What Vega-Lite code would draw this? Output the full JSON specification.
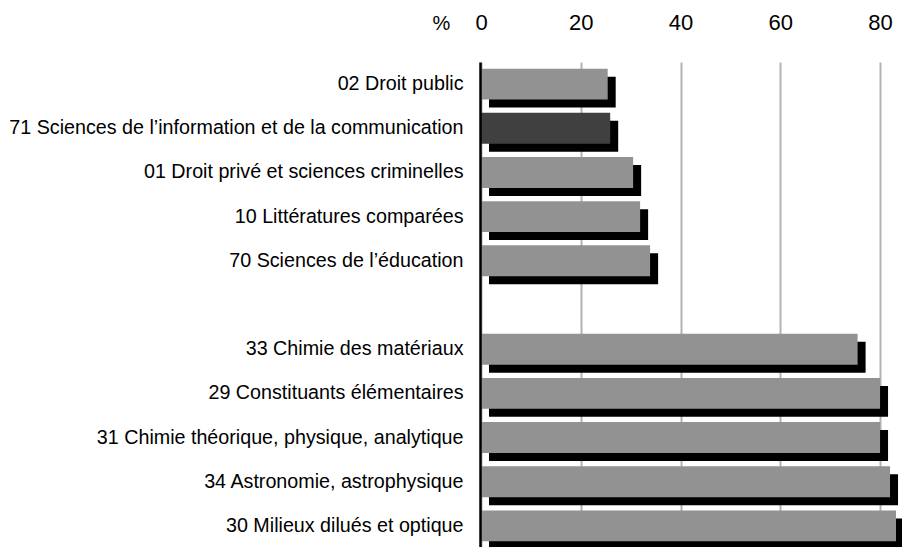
{
  "$schema": "https://vega.github.io/schema/vega-lite/v6.json",
  "autosize": "none",
  "padding": {"left": 481, "top": 62, "right": 0, "bottom": 0},
  "width": 421,
  "height": 486,
  "background": "white",
  "config": {"view": {"stroke": null}, "font": "Liberation Sans"},
  "data": {
    "values": [
      {"discipline": "02 Droit public", "pct": 25.4, "group": "autre"},
      {"discipline": "71 Sciences de l’information et de la communication", "pct": 25.9, "group": "focus"},
      {"discipline": "01 Droit privé et sciences criminelles", "pct": 30.5, "group": "autre"},
      {"discipline": "10 Littératures comparées", "pct": 31.9, "group": "autre"},
      {"discipline": "70 Sciences de l’éducation", "pct": 33.9, "group": "autre"},
      {"discipline": "33 Chimie des matériaux", "pct": 75.5, "group": "autre"},
      {"discipline": "29 Constituants élémentaires", "pct": 80.0, "group": "autre"},
      {"discipline": "31 Chimie théorique, physique, analytique", "pct": 80.0, "group": "autre"},
      {"discipline": "34 Astronomie, astrophysique", "pct": 82.0, "group": "autre"},
      {"discipline": "30 Milieux dilués et optique", "pct": 83.2, "group": "autre"}
    ]
  },
  "encoding": {
    "y": {
      "field": "discipline",
      "type": "nominal",
      "sort": null,
      "scale": {
        "domain": [
          "02 Droit public",
          "71 Sciences de l’information et de la communication",
          "01 Droit privé et sciences criminelles",
          "10 Littératures comparées",
          "70 Sciences de l’éducation",
          " ",
          "33 Chimie des matériaux",
          "29 Constituants élémentaires",
          "31 Chimie théorique, physique, analytique",
          "34 Astronomie, astrophysique",
          "30 Milieux dilués et optique"
        ],
        "paddingInner": 0.3,
        "paddingOuter": 0.15
      },
      "axis": {
        "title": null,
        "offset": 1,
        "zindex": 1,
        "domain": true,
        "domainColor": "black",
        "domainWidth": 2.5,
        "ticks": false,
        "labelPadding": 17,
        "labelFontSize": 19.7,
        "labelColor": "black",
        "labelFont": "Liberation Sans",
        "labelLimit": 600
      }
    },
    "x": {
      "field": "pct",
      "type": "quantitative",
      "scale": {"domain": [0, 84.4], "nice": false},
      "axis": {
        "orient": "top",
        "values": [0, 20, 40, 60, 80],
        "domain": false,
        "ticks": false,
        "grid": true,
        "gridColor": "#b3b3b3",
        "gridWidth": 2,
        "labelFontSize": 22,
        "labelColor": "black",
        "labelFont": "Liberation Sans",
        "labelPadding": 28,
        "labelFlush": false,
        "title": "%",
        "titleFontSize": 20,
        "titleFontWeight": "normal",
        "titleColor": "black",
        "titleFont": "Liberation Sans",
        "titleX": -40,
        "titleY": -29,
        "titleAlign": "center",
        "titleBaseline": "bottom",
        "titleAngle": 0
      }
    }
  },
  "layer": [
    {
      "mark": {"type": "bar", "color": "black", "xOffset": 8, "x2Offset": 3, "yOffset": 8, "y2Offset": 8},
      "encoding": {}
    },
    {
      "mark": {"type": "bar"},
      "encoding": {
        "color": {
          "field": "group",
          "type": "nominal",
          "scale": {"domain": ["autre", "focus"], "range": ["#929292", "#404040"]},
          "legend": null
        }
      }
    }
  ]
}
